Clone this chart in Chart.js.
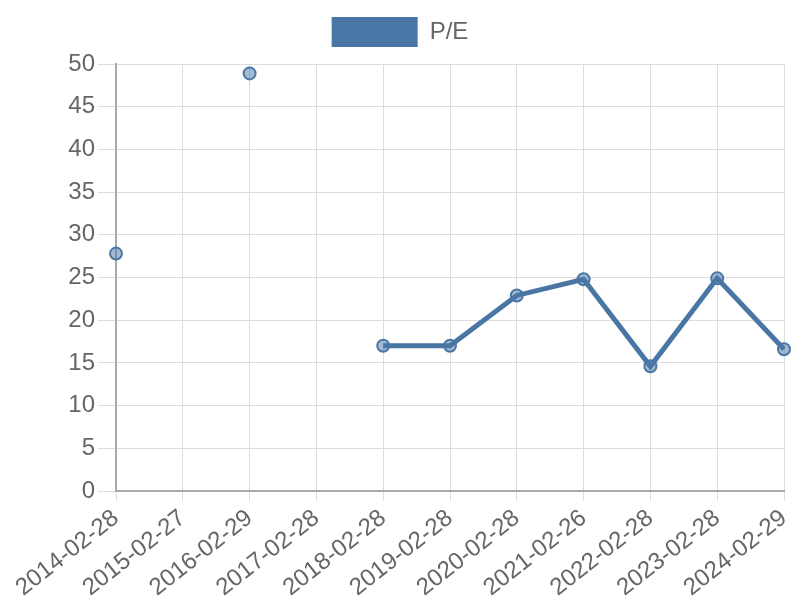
<!DOCTYPE html>
<html lang="en">
<head>
    <meta charset="UTF-8">
    <title>P/E</title>
    <script src="https://cdn.jsdelivr.net/npm/chart.js"></script>
    <style>
        body { margin: 0; background: #fff; }
        .wrap { width: 800px; height: 600px; }
    </style>
</head>
<body>
    <div class="wrap"><canvas id="peChart" width="800" height="600"></canvas></div>
    <script>
        // fiscal year end dates
        const labels = ['2014-02-28', '2015-02-27', '2016-02-29', '2017-02-28', '2018-02-28', '2019-02-28',
                        '2020-02-28', '2021-02-26', '2022-02-28', '2023-02-28', '2024-02-29'];
        const peValues = [27.8, null, 48.9, null, 17.0, 17.0, 22.9, 24.8, 14.6, 24.9, 16.6];

        const lineColor = '#4a76a6';

        // adds a bit of room under the legend
        const legendGap = {
            id: 'legendGap',
            afterInit(chart) {
                const fit = chart.legend.fit;
                chart.legend.fit = function () {
                    fit.bind(chart.legend)();
                    this.height += 7;
                };
            }
        };

        new Chart(document.getElementById('peChart'), {
            type: 'line',
            data: {
                labels: labels,
                datasets: [{
                    label: 'P/E',
                    data: peValues,
                    borderColor: lineColor,
                    backgroundColor: lineColor,
                    borderWidth: 5,
                    pointRadius: 6,
                    pointBorderWidth: 2,
                    pointBackgroundColor: 'rgba(74, 118, 166, 0.5)',
                    pointBorderColor: lineColor,
                    tension: 0,
                    spanGaps: false
                }]
            },
            plugins: [legendGap],
            options: {
                responsive: false,
                animation: false,
                layout: { padding: { top: 7 } },
                plugins: {
                    legend: {
                        display: true,
                        labels: {
                            boxWidth: 86,
                            boxHeight: 30,
                            color: '#666',
                            font: { family: 'Liberation Sans', size: 24 },
                            generateLabels: chart => [{
                                text: 'P/E',
                                fillStyle: lineColor,
                                strokeStyle: lineColor,
                                lineWidth: 0,
                                fontColor: '#666'
                            }]
                        }
                    },
                    tooltip: { enabled: false }
                },
                scales: {
                    x: {
                        grid: { color: '#ddd', tickLength: 10 },
                        border: { color: '#aaa', width: 2 },
                        ticks: {
                            color: '#666',
                            font: { family: 'Liberation Sans', size: 24 },
                            maxRotation: 38,
                            minRotation: 38,
                            autoSkip: false
                        },
                        afterFit: s => { s.paddingLeft = 0; s.paddingRight = 16; s.height = 109; }
                    },
                    y: {
                        min: 0,
                        max: 50,
                        grid: { color: '#ddd', tickLength: 18 },
                        border: { color: '#aaa', width: 2 },
                        ticks: {
                            stepSize: 5,
                            color: '#666',
                            font: { family: 'Liberation Sans', size: 24 }
                        },
                        afterFit: s => { s.width = 116; }
                    }
                }
            }
        });
    </script>
</body>
</html>
